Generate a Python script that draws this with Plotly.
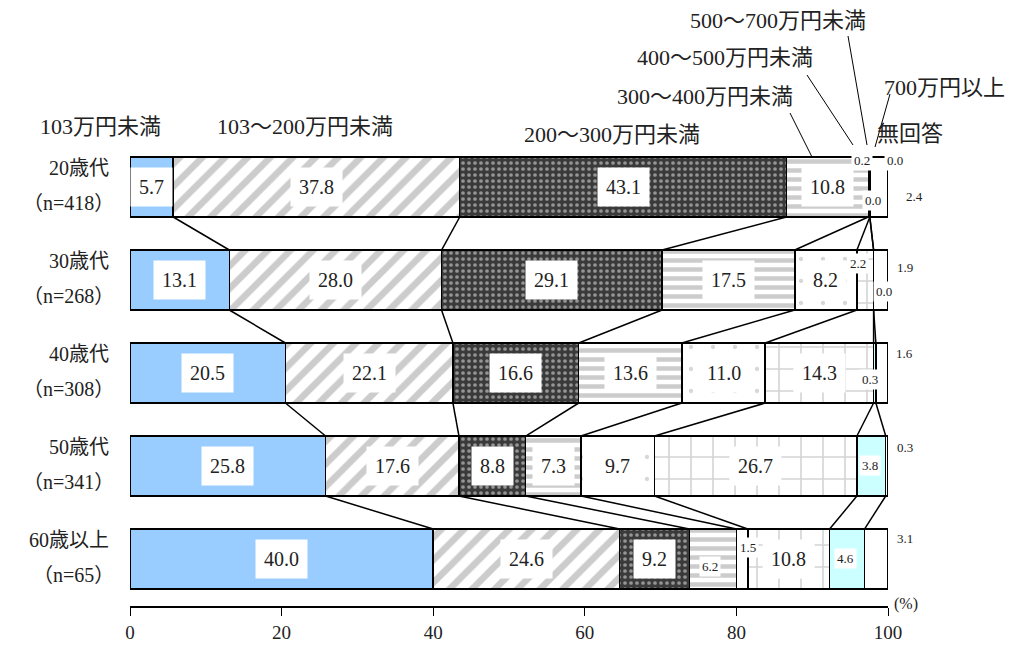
import plotly.graph_objects as go

# categories (income brackets) and age groups
cats = ["103万円未満", "103～200万円未満", "200～300万円未満", "300～400万円未満",
        "400～500万円未満", "500～700万円未満", "700万円以上", "無回答"]
rows = ["20歳代", "30歳代", "40歳代", "50歳代", "60歳以上"]
n_obs = [418, 268, 308, 341, 65]

# percentages per category, one value per age group
v_under103 = [5.7, 13.1, 20.5, 25.8, 40.0]
v_103_200 = [37.8, 28.0, 22.1, 17.6, 24.6]
v_200_300 = [43.1, 29.1, 16.6, 8.8, 9.2]
v_300_400 = [10.8, 17.5, 13.6, 7.3, 6.2]
v_400_500 = [0.2, 8.2, 11.0, 9.7, 1.5]
v_500_700 = [0.0, 2.2, 14.3, 26.7, 10.8]
v_700plus = [0.0, 0.0, 0.3, 3.8, 4.6]
v_noans = [2.4, 1.9, 1.6, 0.3, 3.1]

series = [v_under103, v_103_200, v_200_300, v_300_400, v_400_500, v_500_700, v_700plus, v_noans]

FONT = "Liberation Serif, Noto Sans CJK JP"
BAR_W = 0.645

# fill style for each category
styles = [
    dict(color="#99ccff"),
    dict(color="white", pattern=dict(shape="/", fgcolor="#999999", bgcolor="white", size=16, solidity=0.42)),
    dict(color="#3a3a3a", pattern=dict(shape=".", fgcolor="#f0f0f0", bgcolor="#3a3a3a", size=6, solidity=0.3)),
    dict(color="white", pattern=dict(shape="-", fgcolor="#999999", bgcolor="white", size=9, solidity=0.5)),
    dict(color="white", pattern=dict(shape=".", fgcolor="#b0b0b0", bgcolor="white", size=22, solidity=0.03)),
    dict(color="white", pattern=dict(shape="+", fgcolor="#a8a8a8", bgcolor="white", size=22, solidity=0.14)),
    dict(color="#ccffff"),
    dict(color="white"),
]

# small labels: (row, cat) -> (xshift, yshift) in px, drawn smaller
small_pos = {
    (0, 4): (-7, 27), (0, 5): (25, 27), (0, 6): (3, -13), (0, 7): (36, -9),
    (1, 5): (-7, 17), (1, 6): (10, -11), (1, 7): (24, 13),
    (2, 6): (-5, -6), (2, 7): (23, 20),
    (3, 6): (-1, 1), (3, 7): (18, 19),
    (4, 3): (-3, -7), (4, 4): (6, 12), (4, 6): (-2, 1), (4, 7): (29, 21),
}

ypos = list(range(len(rows)))

fig = go.Figure()
for k, cat in enumerate(cats):
    fig.add_trace(go.Bar(
        y=ypos, x=series[k], name=cat, orientation="h", width=BAR_W,
        marker=dict(line=dict(color="black", width=1.5), **styles[k]),
        hoverinfo="x+name",
    ))

# cumulative sums per row
cums = []
for r in range(len(rows)):
    c, acc = [], 0.0
    for k in range(len(cats)):
        acc += series[k][r]
        c.append(round(acc, 2))
    cums.append(c)

shapes = []
# connector lines between consecutive bars
for r in range(len(rows) - 1):
    for k in range(len(cats) - 1):
        shapes.append(dict(type="line", xref="x", yref="y",
                           x0=cums[r][k], y0=r + BAR_W / 2,
                           x1=cums[r + 1][k], y1=r + 1 - BAR_W / 2,
                           line=dict(color="black", width=1.5)))

annotations = []
for r in range(len(rows)):
    for k in range(len(cats)):
        v = series[k][r]
        start = cums[r][k] - v
        xc = start + v / 2
        if (r, k) in small_pos:
            xs, ys = small_pos[(r, k)]
            annotations.append(dict(x=xc, y=r, xref="x", yref="y", text=f"{v:.1f}",
                                    showarrow=False, xshift=xs, yshift=ys,
                                    font=dict(family=FONT, size=13, color="#222"),
                                    bgcolor="white", borderpad=2))
        else:
            annotations.append(dict(x=xc, y=r, xref="x", yref="y", text=f"{v:.1f}",
                                    showarrow=False,
                                    font=dict(family=FONT, size=20, color="#222"),
                                    bgcolor="white", borderpad=8))
    # row label, two lines
    annotations.append(dict(x=0, y=r, xref="paper", yref="y", xanchor="right", yanchor="middle",
                            text=rows[r], showarrow=False, xshift=-19, yshift=19,
                            font=dict(family=FONT, size=20, color="#222")))
    annotations.append(dict(x=0, y=r, xref="paper", yref="y", xanchor="right", yanchor="middle",
                            text=f"（n={n_obs[r]}）", showarrow=False, xshift=-14, yshift=-16,
                            font=dict(family=FONT, size=20, color="#222")))

# page size and plot area on the page, in px (the page body has an 8px margin)
W, H, BODY = 1022, 646, 8
PX0, PX1, PY0, PY1 = 130, 888, 94, 606


def px(x, y):
    # pixel position on the page -> paper coordinates
    return (x - PX0) / (PX1 - PX0), (PY1 - y) / (PY1 - PY0)


# category labels on top, with leader lines for the narrow ones
cat_label_px = [(100, 126), (305, 126), (612, 134), (705, 96), (725, 57), (778, 20), (945, 87), (910, 133)]
for k, cat in enumerate(cats):
    x, y = px(*cat_label_px[k])
    annotations.append(dict(x=x, y=y, xref="paper", yref="paper", text=cat, showarrow=False,
                            xanchor="center", yanchor="middle",
                            font=dict(family=FONT, size=22, color="#222")))

leaders = [((790, 113), (812, 157)), ((807, 75), (853, 145)),
           ((848, 36), (867, 145)), ((890, 94), (875, 147))]
for (a, b) in leaders:
    x0, y0 = px(*a)
    x1, y1 = px(*b)
    shapes.append(dict(type="line", xref="paper", yref="paper", x0=x0, y0=y0, x1=x1, y1=y1,
                       line=dict(color="black", width=1)))

annotations.append(dict(x=1, y=0, xref="paper", yref="paper", text="(%)", showarrow=False,
                        xanchor="left", yanchor="middle", xshift=4, yshift=2,
                        font=dict(family=FONT, size=16, color="#222")))

# figure fills the window from the body margin down to the bottom edge
fig_w, fig_h = W - 2 * BODY, H - BODY
fig.update_layout(
    barmode="stack",
    width=fig_w, height=fig_h,
    margin=dict(l=PX0 - BODY, r=fig_w + BODY - PX1, t=PY0 - BODY, b=fig_h + BODY - PY1),
    plot_bgcolor="white", paper_bgcolor="white",
    showlegend=False,
    shapes=shapes, annotations=annotations,
    font=dict(family=FONT, color="#222"),
    xaxis=dict(range=[0, 100], tickvals=[0, 20, 40, 60, 80, 100], showgrid=False, zeroline=False,
               showline=True, linecolor="black", linewidth=2, ticks="outside", ticklen=8,
               tickcolor="black", tickfont=dict(size=19, family=FONT), automargin=False),
    yaxis=dict(range=[4.505, -1.0], showgrid=False, zeroline=False, showticklabels=False,
               showline=False, automargin=False),
)

fig.write_html("out.html")
